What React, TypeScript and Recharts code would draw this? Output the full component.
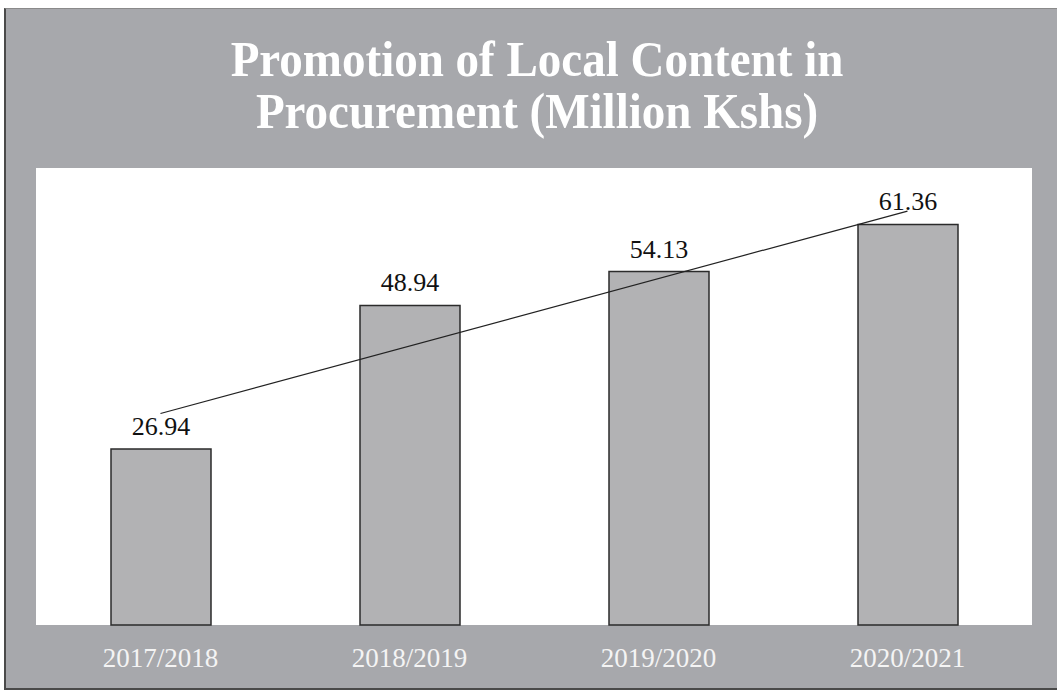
import React from "react"
import {
  ComposedChart,
  Bar,
  Line,
  XAxis,
  YAxis,
  CartesianGrid,
  LabelList,
} from "recharts"

// fiscal years and values (Million Kshs)
const years = ["2017/2018", "2018/2019", "2019/2020", "2020/2021"]
const amounts = [26.94, 48.94, 54.13, 61.36]
// linear trendline at the first and last year
const trendEnds = [32.4, null, null, 63.4]

const data = years.map((year, i) => ({
  year,
  amount: amounts[i],
  trend: trendEnds[i],
}))

const SERIF = '"Liberation Serif", "Times New Roman", serif'

function YearTick({ x, y, payload }: any) {
  return (
    <text
      x={x}
      y={y + 34}
      textAnchor="middle"
      fill="#f4f4f4"
      fontFamily={SERIF}
      fontSize={27}
    >
      {payload.value}
    </text>
  )
}

export default function App() {
  return (
    <div
      style={{
        position: "absolute",
        left: 0,
        top: 0,
        width: 1057,
        height: 693,
        background: "#ffffff",
        overflow: "hidden",
      }}
    >
      {/* scanned grey frame */}
      <div
        style={{
          position: "absolute",
          left: 4,
          top: 8,
          width: 1060,
          height: 679,
          background: "#a7a8ac",
          borderLeft: "2px solid #4a4a4a",
          borderBottom: "2px solid #4a4a4a",
          borderTop: "1px solid #8a8a8a",
        }}
      />
      <div
        style={{
          position: "absolute",
          left: 0,
          top: 33,
          width: 1074,
          textAlign: "center",
          color: "#ffffff",
          fontFamily: SERIF,
          fontWeight: "bold",
          fontSize: 50,
          lineHeight: "52px",
          transform: "scaleX(0.94)",
          transformOrigin: "537px 0",
        }}
      >
        Promotion of Local Content in
        <br />
        Procurement (Million Kshs)
      </div>
      <div style={{ position: "absolute", left: 0, top: 0 }}>
        <ComposedChart
          width={1057}
          height={693}
          data={data}
          margin={{ top: 168, right: 25, bottom: 28, left: 36 }}
        >
          <CartesianGrid
            fill="#ffffff"
            stroke="none"
            horizontal={false}
            vertical={false}
          />
          <XAxis
            dataKey="year"
            axisLine={false}
            tickLine={false}
            height={40}
            tick={<YearTick />}
            interval={0}
          />
          <YAxis hide domain={[0, 70]} />
          <Bar
            dataKey="amount"
            barSize={100}
            fill="#b2b2b4"
            stroke="#2b2b2b"
            strokeWidth={1.5}
            isAnimationActive={false}
          >
            <LabelList
              dataKey="amount"
              position="top"
              offset={14}
              fill="#111111"
              fontFamily={SERIF}
              fontSize={26}
            />
          </Bar>
          <Line
            dataKey="trend"
            connectNulls
            stroke="#222222"
            strokeWidth={1.2}
            dot={false}
            activeDot={false}
            isAnimationActive={false}
          />
        </ComposedChart>
      </div>
    </div>
  )
}
